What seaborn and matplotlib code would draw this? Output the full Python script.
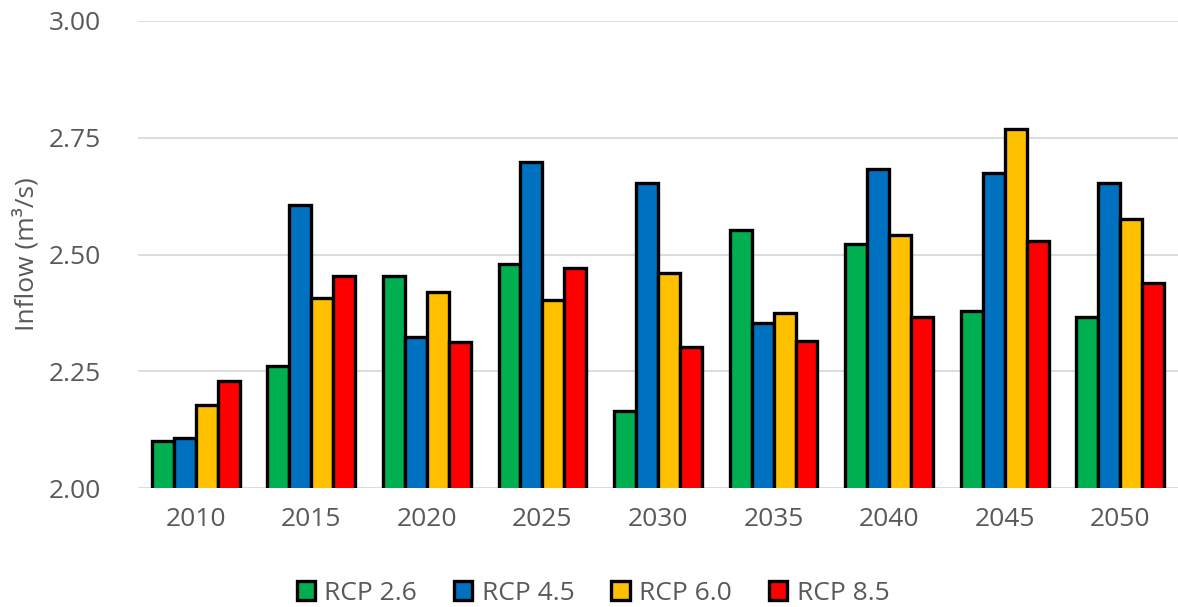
import matplotlib
matplotlib.use("Agg")
import matplotlib.pyplot as plt
import seaborn as sns
import pandas as pd

years = ["2010", "2015", "2020", "2025", "2030", "2035", "2040", "2045", "2050"]
series_names = ["RCP 2.6", "RCP 4.5", "RCP 6.0", "RCP 8.5"]
rcp26 = [2.101, 2.262, 2.455, 2.480, 2.164, 2.552, 2.523, 2.378, 2.367]
rcp45 = [2.106, 2.605, 2.323, 2.698, 2.653, 2.353, 2.683, 2.675, 2.653]
rcp60 = [2.178, 2.407, 2.420, 2.402, 2.460, 2.374, 2.541, 2.768, 2.577]
rcp85 = [2.229, 2.455, 2.312, 2.471, 2.301, 2.315, 2.367, 2.528, 2.438]
colors = ["#00B050", "#0070C0", "#FFC000", "#FF0000"]
yticks = [2.00, 2.25, 2.50, 2.75, 3.00]

rows = []
for name, vals in zip(series_names, [rcp26, rcp45, rcp60, rcp85]):
    for y, v in zip(years, vals):
        rows.append({"Year": y, "Scenario": name, "Inflow": v})
df = pd.DataFrame(rows)

sns.set_theme(style="white")
plt.rcParams["font.family"] = ["Open Sans", "DejaVu Sans"]

fig = plt.figure(figsize=(11.78, 6.07), dpi=100)
ax = fig.add_axes([138/1178, 1 - 488/607, (1178 - 138)/1178, (488 - 21)/607])

sns.barplot(data=df, x="Year", y="Inflow", hue="Scenario", order=years,
            hue_order=series_names, palette=colors, width=0.76,
            edgecolor="black", linewidth=2.4, saturation=1, ax=ax,
            errorbar=None)

ax.set_ylim(2.0, 3.0)
ax.set_xlim(-0.5, 8.5)
ax.set_yticks(yticks)
ax.set_yticklabels([f"{t:.2f}" for t in yticks])
ax.yaxis.grid(True, color="#D9D9D9", linewidth=1.3)
ax.set_axisbelow(True)
for s in ax.spines.values():
    s.set_visible(False)
ax.tick_params(axis="both", length=0, labelsize=19, colors="#595959")
ax.tick_params(axis="y", pad=27)
ax.tick_params(axis="x", pad=14)
ax.set_xlabel("")
ax.set_ylabel("Inflow (m³/s)", fontsize=19, color="#595959")
ax.yaxis.set_label_coords(-0.095, 0.5)

handles, labels = ax.get_legend_handles_labels()
for h in handles:
    h.set_linewidth(2.4)
ax.legend(handles, labels, loc="center", bbox_to_anchor=(0.5 - 138/1178/2 - 0.004, -0.225),
          ncol=4, frameon=False, fontsize=19, labelcolor="#595959",
          handlelength=0.7, handleheight=0.7, handletextpad=0.35, columnspacing=1.4)

fig.savefig("out.png", dpi=100)
